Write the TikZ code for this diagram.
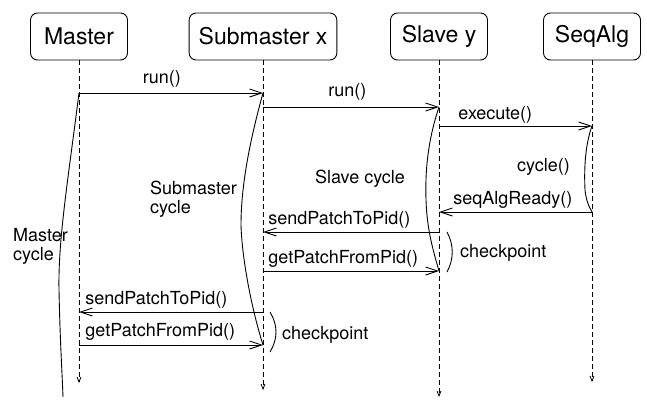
\documentclass[tikz,border=0pt]{standalone}
\usepackage{fontspec}
\setmainfont{TeX Gyre Heros}
\usetikzlibrary{arrows.meta}
\tikzstyle{object}=[draw,line width=.9pt,rounded corners=7pt,minimum width=97pt,minimum height=47pt,inner xsep=9.5pt,font=\fontsize{23}{26}\selectfont]
\tikzstyle{lifeline}=[line width=.8pt,dash pattern=on 5pt off 3pt,-{Straight Barb[length=5pt,width=4pt]}]
\tikzstyle{call}=[line width=.9pt,-{Straight Barb[length=12pt,width=8pt]}]
\tikzstyle{bracket}=[line width=.9pt]
\tikzstyle{lbl}=[inner sep=0pt,font=\fontsize{18}{19}\selectfont]

\begin{document}
\begin{tikzpicture}[x=1pt,y=-1pt]
	\useasboundingbox (0,0) rectangle (647,399);
	% objects and their lifelines
	\node[object] (master) at (79,36.5)  {Master};
	\node[object] (sub)    at (263,36.5) {Submaster x};
	\node[object] (slave)  at (439,36.5) {Slave y};
	\node[object] (seq)    at (592,36.5) {SeqAlg};
	\coordinate (master-end) at (79,383);
	\coordinate (sub-end)    at (263,390);
	\coordinate (slave-end)  at (439,397);
	\coordinate (seq-end)    at (592,382);
	\draw[lifeline] (master) -- (master-end);
	\draw[lifeline] (sub)    -- (sub-end);
	\draw[lifeline] (slave)  -- (slave-end);
	\draw[lifeline] (seq)    -- (seq-end);
	% message points
	\coordinate (ma-run)   at (79,93);
	\coordinate (sb-run)   at (263,93);
	\coordinate (sb-run2)  at (263,107);
	\coordinate (sl-run2)  at (439,107);
	\coordinate (sl-exec)  at (439,126);
	\coordinate (sq-exec)  at (592,126);
	\coordinate (sq-ready) at (592,212);
	\coordinate (sl-ready) at (439,212);
	\coordinate (sl-send)  at (439,232);
	\coordinate (sb-send)  at (263,232);
	\coordinate (sb-get)   at (263,271);
	\coordinate (sl-get)   at (439,271);
	\coordinate (sb-send2) at (263,312);
	\coordinate (ma-send2) at (79,312);
	\coordinate (ma-get2)  at (79,345);
	\coordinate (sb-get2)  at (263,345);
	% messages
	\draw[call] (ma-run) --node[lbl,anchor=base,pos=.45,yshift=10pt]{run()} (sb-run);
	\draw[call] (sb-run2) --node[lbl,anchor=base,pos=.48,yshift=11pt]{run()} (sl-run2);
	\draw[call] (sl-exec) --node[lbl,anchor=base west,pos=0,xshift=19pt,yshift=7pt]{execute()} (sq-exec);
	\draw[call] (sq-ready) --node[lbl,anchor=base west,pos=1,xshift=14pt,yshift=8pt]{seqAlgReady()} (sl-ready);
	\draw[call] (sl-send) --node[lbl,anchor=base west,pos=1,xshift=5pt,yshift=8pt]{sendPatchToPid()} (sb-send);
	\draw[call] (sb-get) --node[lbl,anchor=base west,pos=0,xshift=5pt,yshift=8pt]{getPatchFromPid()} (sl-get);
	\draw[call] (sb-send2) --node[lbl,anchor=base west,pos=1,xshift=6pt,yshift=8pt]{sendPatchToPid()} (ma-send2);
	\draw[call] (ma-get2) --node[lbl,anchor=base west,pos=0,xshift=6pt,yshift=9pt]{getPatchFromPid()} (sb-get2);
	% cycles
	\coordinate (master-cycle-end) at (63,397);
	\draw[bracket] (ma-run) .. controls (68,180) and (58,240) .. (59,290) .. controls (60,340) and (62,370) .. (master-cycle-end);
	\draw[bracket] (sb-run) .. controls (250,140) and (241,185) .. (241,225) .. controls (242,260) and (252,310) .. (sb-get2);
	\draw[bracket] (sl-run2) .. controls (428,140) and (425,170) .. (426,200) .. controls (427,230) and (433,250) .. (sl-get);
	\draw[bracket] (sq-exec) .. controls (585,145) and (584,170) .. (585,190) .. controls (586,200) and (589,207) .. (sq-ready);
	\node[lbl,align=left,anchor=north west] (master-cycle) at (13,228) {Master\\cycle};
	\node[lbl,align=left,anchor=north west] (sub-cycle) at (150,181) {Submaster\\cycle};
	\node[lbl,anchor=base] (slave-cycle) at (360,183) {Slave cycle};
	\node[lbl,anchor=base east] (seq-cycle) at (570,171) {cycle()};
	% checkpoints
	\coordinate (ck1-top) at (447,232);
	\coordinate (ck1-bot) at (447,272);
	\coordinate (ck2-top) at (270,312);
	\coordinate (ck2-bot) at (270,352);
	\draw[bracket] (ck1-top) .. controls (454,245) and (454,259) .. (ck1-bot);
	\draw[bracket] (ck2-top) .. controls (278,325) and (278,339) .. (ck2-bot);
	\node[lbl,anchor=base west] (ck1) at (460,257) {checkpoint};
	\node[lbl,anchor=base west] (ck2) at (282,339) {checkpoint};
\end{tikzpicture}
\end{document}
